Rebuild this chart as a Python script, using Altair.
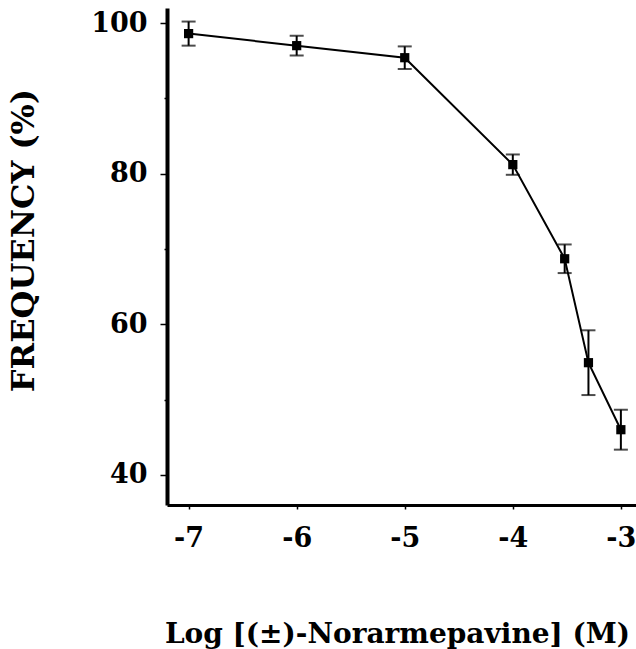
import altair as alt
import pandas as pd

log_conc = [-7.0, -6.0, -5.0, -4.0, -3.52, -3.30, -3.0]
frequency = [98.6, 97.0, 95.4, 81.2, 68.7, 54.9, 46.0]
sem = [1.6, 1.3, 1.5, 1.35, 1.9, 4.3, 2.65]

df = pd.DataFrame({"x": log_conc, "y": frequency, "e": sem})
df["lo"] = df["y"] - df["e"]
df["hi"] = df["y"] + df["e"]

FONT = "DejaVu Serif"

xscale = alt.Scale(domain=[-7.2, -2.86], nice=False, zero=False)
yscale = alt.Scale(domain=[36, 102], nice=False, zero=False)

xaxis = alt.Axis(values=[-7, -6, -5, -4, -3], title="Log [(±)-Norarmepavine] (M)",
                 grid=False, domainWidth=3, domainColor="black", tickColor="black",
                 tickSize=4, tickWidth=1.5, labelFont=FONT, labelFontSize=27,
                 labelFontWeight="bold", labelColor="black", labelPadding=16,
                 labelExpr="'-' + abs(datum.value)",
                 titleFont=FONT, titleFontSize=28, titleFontWeight="bold",
                 titleColor="black", titleBaseline="alphabetic", titleY=137, titleX=230)
yaxis = alt.Axis(values=[40, 50, 60, 70, 80, 90, 100], title="FREQUENCY (%)",
                 grid=False, domainWidth=4, domainColor="black", tickColor="black",
                 tickSize={"expr": "datum.value % 20 == 0 ? 7 : 3"}, tickWidth=1.5,
                 labelExpr="datum.value % 20 == 0 ? datum.label : ''",
                 labelFont=FONT, labelFontSize=27, labelFontWeight="bold",
                 labelColor="black", labelPadding=13,
                 titleFont=FONT, titleFontSize=32, titleFontWeight="bold",
                 titleColor="black", titleAngle=270, titleBaseline="middle",
                 titleAlign="center", titleX=-144, titleY=232)

base = alt.Chart(df)

bars = base.mark_rule(color="black", strokeWidth=2).encode(
    x=alt.X("x:Q", scale=xscale, axis=xaxis),
    y=alt.Y("lo:Q", scale=yscale, axis=yaxis),
    y2="hi:Q",
)
cap_hi = base.mark_tick(color="black", thickness=2, size=14, orient="horizontal").encode(
    x=alt.X("x:Q", scale=xscale), y=alt.Y("hi:Q", scale=yscale))
cap_lo = base.mark_tick(color="black", thickness=2, size=14, orient="horizontal").encode(
    x=alt.X("x:Q", scale=xscale), y=alt.Y("lo:Q", scale=yscale))
line = base.mark_line(color="black", strokeWidth=2).encode(
    x=alt.X("x:Q", scale=xscale), y=alt.Y("y:Q", scale=yscale))
pts = base.mark_point(shape="square", filled=True, color="black", size=85, opacity=1).encode(
    x=alt.X("x:Q", scale=xscale), y=alt.Y("y:Q", scale=yscale))

chart = alt.layer(bars, cap_hi, cap_lo, line, pts).properties(
    width=469, height=497,
    autosize=alt.AutoSizeParams(type="none"),
    padding={"left": 167, "top": 8, "right": 0, "bottom": 144},
    background="white",
).configure_view(stroke=None)

chart.save("out.html", embed_options={"renderer": "svg", "actions": False})
